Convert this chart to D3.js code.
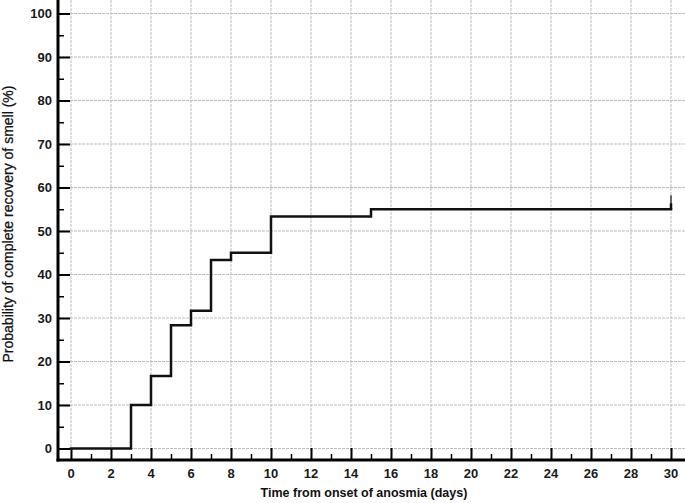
<!DOCTYPE html>
<html>
<head>
<meta charset="utf-8">
<script src="https://cdn.jsdelivr.net/npm/d3@7"></script>
<style>
  body { margin: 0; background: #fff; }
  svg { display: block; font-family: "Liberation Sans", Arial, sans-serif; }
</style>
</head>
<body>
<div id="chart"></div>
<script>
// step times (days) and cumulative recovery probability (%)
var stepDays = [0, 3, 4, 5, 6, 7, 8, 10, 15];
var stepProb = [0, 10, 16.67, 28.33, 31.67, 43.33, 45, 53.33, 55];
var endDay = 30;
var censorTop = 58.2;

var xTicks = d3.range(0, 31, 2);
var xMinor = d3.range(1, 30, 2);
var yTicks = d3.range(0, 101, 10);
var yMinor = d3.range(5, 100, 10);

var xTitle = "Time from onset of anosmia (days)";
var yTitle = "Probability of complete recovery of smell (%)";

var width = 685, height = 503;
var axisX = 58, axisY = 460;

var svg = d3.select('#chart')
    .append('svg')
    .attr('width', width)
    .attr('height', height);

var x = d3.scaleLinear().domain([0, 30]).range([71, 671]);
var y = d3.scaleLinear().domain([0, 100]).range([448.5, 13.5]);

// grid
svg.append('g').selectAll('line.vg')
    .data(xTicks)
    .enter().append('line')
    .attr('x1', function (d) { return x(d); })
    .attr('x2', function (d) { return x(d); })
    .attr('y1', 0)
    .attr('y2', axisY)
    .attr('stroke', '#bdbdbd')
    .attr('stroke-width', 1)
    .attr('stroke-dasharray', '3,1');

svg.append('g').selectAll('line.hg')
    .data(yTicks)
    .enter().append('line')
    .attr('x1', axisX)
    .attr('x2', width)
    .attr('y1', function (d) { return y(d); })
    .attr('y2', function (d) { return y(d); })
    .attr('stroke', '#bdbdbd')
    .attr('stroke-width', 1)
    .attr('stroke-dasharray', '3,1');

// y axis: ticks point inward
var yAxis = d3.axisRight(y).tickValues(yTicks).tickSize(12).tickFormat('');
var gy = svg.append('g').attr('transform', 'translate(' + axisX + ',0)').call(yAxis);
gy.select('.domain').remove();
gy.selectAll('line').attr('stroke', '#000').attr('stroke-width', 2);

var yAxisMinor = d3.axisRight(y).tickValues(yMinor).tickSize(6).tickFormat('');
var gym = svg.append('g').attr('transform', 'translate(' + axisX + ',0)').call(yAxisMinor);
gym.select('.domain').remove();
gym.selectAll('line').attr('stroke', '#000').attr('stroke-width', 1.5);

svg.append('g').selectAll('text')
    .data(yTicks)
    .enter().append('text')
    .attr('x', 52)
    .attr('y', function (d) { return y(d); })
    .attr('dy', '0.35em')
    .attr('text-anchor', 'end')
    .attr('font-size', 13)
    .attr('font-weight', 'bold')
    .attr('fill', '#1a1a1a')
    .text(function (d) { return d; });

// x axis: ticks point upward
var xAxis = d3.axisTop(x).tickValues(xTicks).tickSize(12).tickFormat('');
var gx = svg.append('g').attr('transform', 'translate(0,' + axisY + ')').call(xAxis);
gx.select('.domain').remove();
gx.selectAll('line').attr('stroke', '#000').attr('stroke-width', 2);

var xAxisMinor = d3.axisTop(x).tickValues(xMinor).tickSize(6).tickFormat('');
var gxm = svg.append('g').attr('transform', 'translate(0,' + axisY + ')').call(xAxisMinor);
gxm.select('.domain').remove();
gxm.selectAll('line').attr('stroke', '#000').attr('stroke-width', 1.5);

svg.append('g').selectAll('text')
    .data(xTicks)
    .enter().append('text')
    .attr('x', function (d) { return x(d); })
    .attr('y', 478)
    .attr('text-anchor', 'middle')
    .attr('font-size', 13)
    .attr('font-weight', 'bold')
    .attr('fill', '#1a1a1a')
    .text(function (d) { return d; });

// axis lines
svg.append('line')
    .attr('x1', axisX).attr('x2', axisX)
    .attr('y1', 0).attr('y2', axisY + 1.5)
    .attr('stroke', '#000').attr('stroke-width', 3);
svg.append('line')
    .attr('x1', axisX - 1.5).attr('x2', width)
    .attr('y1', axisY).attr('y2', axisY)
    .attr('stroke', '#000').attr('stroke-width', 3);

// step curve
var pts = stepDays.map(function (d, i) { return [d, stepProb[i]]; });
pts.push([endDay, stepProb[stepProb.length - 1]]);

var line = d3.line()
    .x(function (d) { return x(d[0]); })
    .y(function (d) { return y(d[1]); })
    .curve(d3.curveStepAfter);

svg.append('path')
    .datum(pts)
    .attr('d', line)
    .attr('fill', 'none')
    .attr('stroke', '#111')
    .attr('stroke-width', 2.5)
    .attr('stroke-linejoin', 'miter')
    .attr('stroke-linecap', 'square');

// censor mark at end
svg.append('line')
    .attr('x1', x(endDay)).attr('x2', x(endDay))
    .attr('y1', y(stepProb[stepProb.length - 1]))
    .attr('y2', y(censorTop))
    .attr('stroke', '#111')
    .attr('stroke-width', 1.2);
svg.append('line')
    .attr('x1', x(endDay)).attr('x2', x(endDay))
    .attr('y1', y(stepProb[stepProb.length - 1]))
    .attr('y2', y(stepProb[stepProb.length - 1]) - 6)
    .attr('stroke', '#111')
    .attr('stroke-width', 2.5);

// titles
svg.append('text')
    .attr('x', 364)
    .attr('y', 497)
    .attr('text-anchor', 'middle')
    .attr('font-size', 12.5)
    .attr('font-weight', 'bold')
    .attr('fill', '#111')
    .text(xTitle);

svg.append('text')
    .attr('transform', 'translate(13,224) rotate(-90)')
    .attr('text-anchor', 'middle')
    .attr('font-size', 14)
    .attr('fill', '#111')
    .attr('stroke', '#111')
    .attr('stroke-width', 0.25)
    .text(yTitle);
</script>
</body>
</html>
